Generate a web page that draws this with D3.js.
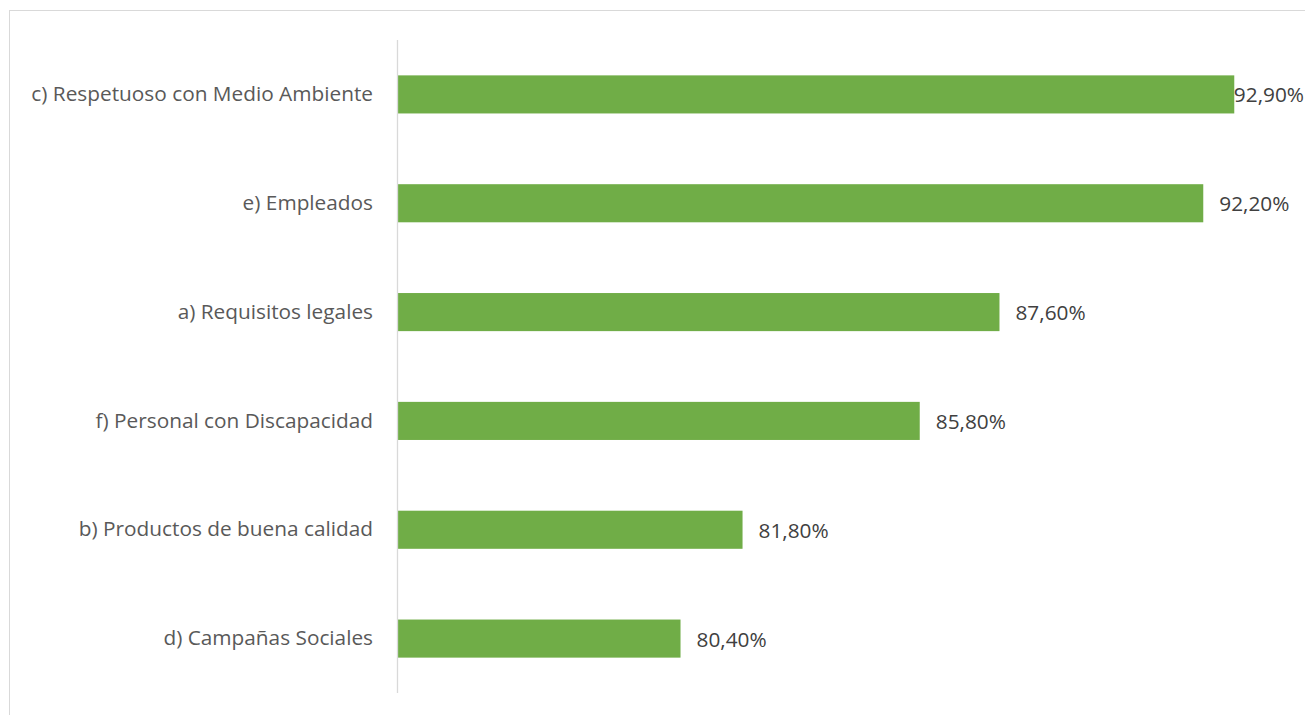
<!DOCTYPE html>
<html>
<head>
<meta charset="utf-8">
<script src="https://cdn.jsdelivr.net/npm/d3@7"></script>
<style>
  html, body { margin: 0; padding: 0; background: #fff; }
  svg { display: block; }
</style>
</head>
<body>
<svg id="chart" width="1305" height="715"></svg>
<script>
// Categories, top to bottom, and their percentage values
const categories = [
  "c) Respetuoso con Medio Ambiente",
  "e) Empleados",
  "a) Requisitos legales",
  "f) Personal con Discapacidad",
  "b) Productos de buena calidad",
  "d) Campañas Sociales"
];
const values = [92.9, 92.2, 87.6, 85.8, 81.8, 80.4];
const valueDomain = [74, 94];

const W = 1305, H = 715;
const svg = d3.select("#chart");
const fontFamily = "'Open Sans', 'Liberation Sans', sans-serif";
const fontSize = "20.8px";

// Chart frame (extends past the bottom-right edge)
svg.append("rect")
  .attr("x", 9.5).attr("y", 10.5)
  .attr("width", 1400).attr("height", 800)
  .attr("fill", "none").attr("stroke", "#d9d9d9").attr("stroke-width", 1);

const plot = { left: 397, right: 1283, top: 40, bottom: 693 };

const x = d3.scaleLinear().domain(valueDomain).range([plot.left, plot.right]);
const y = d3.scaleBand().domain(categories).range([plot.top, plot.bottom])
  .paddingInner(0.65).paddingOuter(0.325);

// Bars
svg.append("g").selectAll("rect")
  .data(categories)
  .join("rect")
  .attr("x", x(valueDomain[0]))
  .attr("y", d => y(d))
  .attr("width", (d, i) => x(values[i]) - x(valueDomain[0]))
  .attr("height", y.bandwidth())
  .attr("fill", "#70ad47");

// Category axis
const yAxis = svg.append("g")
  .attr("transform", `translate(${plot.left},0)`)
  .call(d3.axisLeft(y).tickSize(0).tickPadding(24));
yAxis.select(".domain").attr("stroke", "#d9d9d9").attr("stroke-width", 1.3)
  .attr("d", `M0.5,${plot.top}V${plot.bottom}`);
yAxis.selectAll("text")
  .attr("font-family", fontFamily)
  .attr("font-size", fontSize)
  .attr("fill", "#595959");

// Value labels, kept inside the chart's right edge
const fmt = v => d3.format(".2f")(v).replace(".", ",") + "%";
svg.append("g").selectAll("text")
  .data(categories)
  .join("text")
  .attr("font-family", fontFamily)
  .attr("font-size", fontSize)
  .attr("fill", "#404040")
  .attr("dominant-baseline", "central")
  .attr("y", d => y(d) + y.bandwidth() / 2)
  .text((d, i) => fmt(values[i]))
  .attr("x", function (d, i) {
    const w = this.getComputedTextLength();
    return Math.min(x(values[i]) + 16, W - 1 - w);
  });
</script>
</body>
</html>
